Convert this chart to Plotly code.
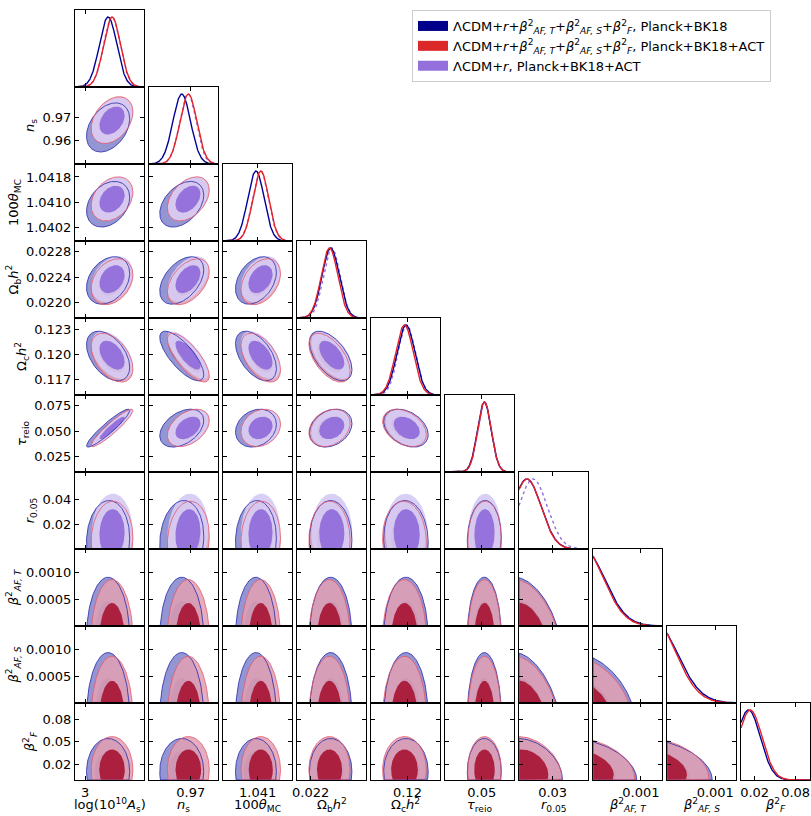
import numpy as np
import plotly.graph_objects as go

# ---------------- data ----------------
x_titles = ["log(10<sup>10</sup><i>A</i><sub>s</sub>)", "<i>n</i><sub>s</sub>", "100<i>θ</i><sub>MC</sub>",
            "Ω<sub>b</sub><i>h</i><sup>2</sup>", "Ω<sub>c</sub><i>h</i><sup>2</sup>", "<i>τ</i><sub>reio</sub>",
            "<i>r</i><sub>0.05</sub>", "<i>β</i><sup>2</sup><sub><i>AF, T</i></sub>",
            "<i>β</i><sup>2</sup><sub><i>AF, S</i></sub>", "<i>β</i><sup>2</sup><sub><i>F</i></sub>"]
y_titles = x_titles

ranges = [[2.982, 3.105], [0.9497, 0.9832], [1.03978, 1.04221], [0.021761, 0.022969],
          [0.11512, 0.12436], [0.0103, 0.0849], [0.0, 0.0616], [0.0, 0.00144],
          [0.0, 0.00143], [0.0, 0.101]]
lower_bound = [None, None, None, None, None, None, 0.0, 0.0, 0.0, 0.0]

x_tickvals = [[3.0], [0.97], [1.041], [0.022], [0.12], [0.05], [0.03], [0.001], [0.001], [0.02, 0.08]]
x_ticktext = [["3"], ["0.97"], ["1.041"], ["0.022"], ["0.12"], ["0.05"], ["0.03"], ["0.001"], ["0.001"],
              ["0.02", "0.08"]]
y_tickvals = [[], [0.96, 0.97], [1.0402, 1.0410, 1.0418], [0.0220, 0.0224, 0.0228], [0.117, 0.120, 0.123],
              [0.025, 0.050, 0.075], [0.02, 0.04], [0.0005, 0.0010], [0.0005, 0.0010], [0.02, 0.05, 0.08]]
y_ticktext = [[], ["0.96", "0.97"], ["1.0402", "1.0410", "1.0418"], ["0.0220", "0.0224", "0.0228"],
              ["0.117", "0.120", "0.123"], ["0.025", "0.050", "0.075"], ["0.02", "0.04"],
              ["0.0005", "0.0010"], ["0.0005", "0.0010"], ["0.02", "0.05", "0.08"]]

# posterior summaries (mean, width) per parameter
mean_bk18 = [3.041, 0.9656, 1.04094, 0.02235, 0.1198, 0.0528, 0.0070, -0.00023, -0.00028, 0.0110]
sigma_bk18 = [0.0155, 0.0043, 0.00029, 0.000150, 0.00120, 0.0074, 0.0128, 0.00046, 0.00049, 0.0175]
mean_act = [3.048, 0.9688, 1.04111, 0.02233, 0.1196, 0.0530, 0.0072, -0.00025, -0.00030, 0.0135]
sigma_act = [0.0150, 0.0041, 0.00028, 0.000145, 0.00118, 0.0073, 0.0125, 0.00045, 0.00047, 0.0175]
mean_lcdm = [3.048, 0.9686, 1.04110, 0.02237, 0.1199, 0.0530, 0.0125]
sigma_lcdm = [0.0148, 0.0040, 0.00028, 0.000145, 0.00115, 0.0072, 0.0128]

# pair correlations (row, col)
corr = {
    (1, 0): 0.35, (2, 0): 0.30, (2, 1): 0.40, (3, 0): 0.30, (3, 1): 0.45, (3, 2): 0.35,
    (4, 0): -0.45, (4, 1): -0.75, (4, 2): -0.50, (4, 3): -0.55,
    (5, 0): 0.93, (5, 1): 0.40, (5, 2): 0.20, (5, 3): 0.25, (5, 4): -0.35,
    (6, 0): 0.05, (6, 1): 0.10, (6, 2): 0.05, (6, 3): 0.0, (6, 4): -0.05, (6, 5): 0.05,
    (7, 6): -0.35, (8, 6): -0.35, (9, 6): -0.25, (8, 7): -0.20, (9, 7): -0.25, (9, 8): -0.25,
}

legend_labels = [
    "ΛCDM+<i>r</i>+<i>β</i><sup>2</sup><sub><i>AF, T</i></sub>+<i>β</i><sup>2</sup><sub><i>AF, S</i></sub>+<i>β</i><sup>2</sup><sub><i>F</i></sub>, Planck+BK18",
    "ΛCDM+<i>r</i>+<i>β</i><sup>2</sup><sub><i>AF, T</i></sub>+<i>β</i><sup>2</sup><sub><i>AF, S</i></sub>+<i>β</i><sup>2</sup><sub><i>F</i></sub>, Planck+BK18+ACT",
    "ΛCDM+<i>r</i>, Planck+BK18+ACT",
]
legend_colors = ["#00008B", "#DC2828", "#9370DB"]

# ---------------- styling ----------------
FONT = "DejaVu Sans"
N = 10
W, H = 811, 816
ML, MR, MT, MB = 75, 1, 10, 36
PW, PH = W - ML - MR, H - MT - MB
PANEL_W, GAP_W, PANEL_H = 69, 5, 77

BLUE_OUT = "rgba(40,45,165,0.50)"
BLUE_IN = "rgba(40,45,165,0.50)"
RED_OUT = "rgba(225,160,178,0.86)"
RED_IN = "rgba(168,22,52,0.92)"
PUR_OUT = "rgba(214,203,243,0.93)"
PUR_IN = "rgba(147,112,219,0.97)"
BLUE_EDGE = "rgba(40,40,170,0.8)"
RED_EDGE = "rgba(228,90,110,0.8)"
BLUE_1D = "rgb(0,0,150)"
RED_1D = "rgb(232,32,40)"
PUR_1D = "#9370DB"

K68, K95 = np.sqrt(2.30), np.sqrt(6.17)


def clip_half(poly, axis, lo):
    out = []
    n = len(poly)
    for k in range(n):
        P, Q = poly[k], poly[(k + 1) % n]
        pin, qin = P[axis] >= lo, Q[axis] >= lo
        if pin:
            out.append(P)
        if pin != qin:
            t = (lo - P[axis]) / (Q[axis] - P[axis])
            out.append(P + t * (Q - P))
    return out


def contour(mx, my, sx, sy, rho, kk, xlo, ylo):
    t = np.linspace(0, 2 * np.pi, 161)[:-1]
    cov = np.array([[sx * sx, rho * sx * sy], [rho * sx * sy, sy * sy]])
    L = np.linalg.cholesky(cov)
    pts = (L @ np.vstack([np.cos(t), np.sin(t)])).T * kk + np.array([mx, my])
    poly = [p for p in pts]
    if xlo is not None:
        poly = clip_half(poly, 0, xlo)
    if ylo is not None and poly:
        poly = clip_half(poly, 1, ylo)
    if not poly:
        return [], []
    poly.append(poly[0])
    arr = np.array(poly)
    return arr[:, 0], arr[:, 1]


fig = go.Figure()
layout = {}
annotations = []
axis_index = {}
k = 0
for i in range(N):
    for j in range(i + 1):
        k += 1
        axis_index[(i, j)] = k
        xs = "" if k == 1 else str(k)
        x0 = (j * (PANEL_W + GAP_W)) / PW
        x1 = (j * (PANEL_W + GAP_W) + PANEL_W) / PW
        y1 = 1 - (i * PANEL_H) / PH
        y0 = 1 - ((i + 1) * PANEL_H) / PH
        common = dict(showgrid=False, zeroline=False, showline=True, linecolor="black", linewidth=1,
                      mirror="ticks", ticks="inside", ticklen=4, tickwidth=1, tickcolor="black",
                      tickfont=dict(family=FONT, size=13, color="black"), fixedrange=True)
        xa = dict(common, domain=[x0, x1], range=ranges[j], anchor="y" + xs,
                  tickmode="array", tickvals=x_tickvals[j], ticktext=x_ticktext[j],
                  showticklabels=(i == N - 1))
        if i == N - 1:
            annotations.append(dict(text=x_titles[j], xref="paper", yref="paper", x=(x0 + x1) / 2, y=0,
                                    xanchor="center", yanchor="middle", yshift=-25, showarrow=False,
                                    font=dict(family=FONT, size=13, color="black")))
        if i == j:
            ya = dict(common, domain=[y0, y1], range=[0, 1.1], anchor="x" + xs, ticks="",
                      showticklabels=False)
        else:
            ya = dict(common, domain=[y0, y1], range=ranges[i], anchor="x" + xs,
                      tickmode="array", tickvals=y_tickvals[i], ticktext=y_ticktext[i],
                      showticklabels=(j == 0))
            if j == 0:
                ya["title"] = dict(text=y_titles[i], font=dict(family=FONT, size=13, color="black"), standoff=4)
        layout["xaxis" + xs] = xa
        layout["yaxis" + xs] = ya


def add_fill(xx, yy, color, xs):
    if len(xx) == 0:
        return
    fig.add_trace(go.Scatter(x=xx, y=yy, mode="lines", fill="toself", fillcolor=color,
                             line=dict(width=0), hoverinfo="skip", showlegend=False,
                             xaxis="x" + xs, yaxis="y" + xs))


def add_line(xx, yy, color, xs, width=1.0, dash="solid"):
    if len(xx) == 0:
        return
    fig.add_trace(go.Scatter(x=xx, y=yy, mode="lines", line=dict(color=color, width=width, dash=dash),
                             hoverinfo="skip", showlegend=False, xaxis="x" + xs, yaxis="y" + xs))


# 2D panels
for i in range(N):
    for j in range(i):
        k = axis_index[(i, j)]
        xs = "" if k == 1 else str(k)
        rho = corr.get((i, j), 0.0)
        models = [(mean_bk18, sigma_bk18, BLUE_OUT, BLUE_IN), (mean_act, sigma_act, RED_OUT, RED_IN)]
        if i < 7:
            models.append((mean_lcdm, sigma_lcdm, PUR_OUT, PUR_IN))
        edges = []
        for mm, ss, cout, cin in models:
            xo, yo = contour(mm[j], mm[i], ss[j], ss[i], rho, K95, lower_bound[j], lower_bound[i])
            xi, yi = contour(mm[j], mm[i], ss[j], ss[i], rho, K68, lower_bound[j], lower_bound[i])
            add_fill(xo, yo, cout, xs)
            add_fill(xi, yi, cin, xs)
            edges.append((xo, yo))
        add_line(edges[0][0], edges[0][1], BLUE_EDGE, xs, 1.0)
        add_line(edges[1][0], edges[1][1], RED_EDGE, xs, 1.0)

# 1D panels
for i in range(N):
    k = axis_index[(i, i)]
    xs = "" if k == 1 else str(k)
    lo = ranges[i][0] if lower_bound[i] is None else lower_bound[i]
    grid = np.linspace(lo, ranges[i][1], 300)
    curves = []
    if i < 7:
        curves.append((mean_lcdm[i], sigma_lcdm[i], PUR_1D, "dot"))
    curves.append((mean_bk18[i], sigma_bk18[i], BLUE_1D, "solid"))
    curves.append((mean_act[i], sigma_act[i], RED_1D, "solid"))
    for mu, sg, col, dash in curves:
        dens = np.exp(-0.5 * ((grid - mu) / sg) ** 2)
        dens = dens / dens.max()
        add_line(grid, dens, col, xs, 1.4, dash)

# legend entries
for lab, col in zip(legend_labels, legend_colors):
    fig.add_trace(go.Scatter(x=[None], y=[None], mode="lines", line=dict(color=col, width=10),
                             name=lab, showlegend=True, xaxis="x", yaxis="y"))

layout.update(
    width=W, height=H,
    margin=dict(l=ML, r=MR, t=MT, b=MB),
    paper_bgcolor="white", plot_bgcolor="white",
    font=dict(family=FONT, size=13, color="black"),
    showlegend=True,
    annotations=annotations,
    legend=dict(x=(412 - ML) / PW, y=1.0, xanchor="left", yanchor="top",
                bgcolor="white", bordercolor="#CCCCCC", borderwidth=1,
                font=dict(family=FONT, size=13, color="black"), itemwidth=30,
                tracegroupgap=0),
)
fig.update_layout(layout)
fig.write_html("out.html", config={"displayModeBar": False},
               post_script="document.body.style.margin='0px';document.body.style.overflow='hidden';")
